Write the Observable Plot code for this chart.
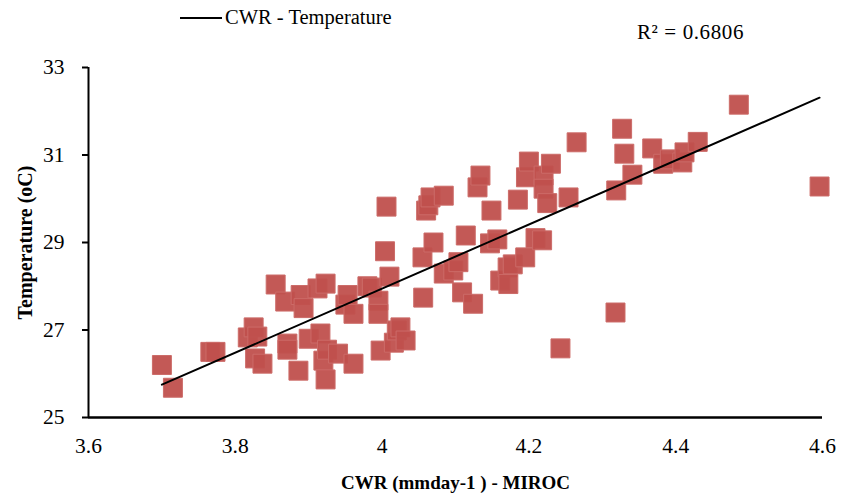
<!DOCTYPE html>
<html>
<head>
<meta charset="utf-8">
<script src="https://cdn.jsdelivr.net/npm/d3@7"></script>
<script src="https://cdn.jsdelivr.net/npm/@observablehq/plot@0.6"></script>
<style>
  html, body { margin: 0; padding: 0; background: #fff; }
  #wrap { width: 841px; height: 499px; position: relative; font-family: "Liberation Serif", "Times New Roman", serif; color: #000; }
  #legend { position: relative; width: 841px; height: 45px; }
  #legend .swatch { position: absolute; left: 180px; top: 17px; width: 42px; height: 2px; background: #000; }
  #legend .lab { position: absolute; left: 225px; top: 5px; font-size: 20.5px; line-height: 24px; white-space: nowrap; }
  #legend .r2 { position: absolute; left: 637px; top: 19px; font-size: 21px; line-height: 26px; white-space: nowrap; letter-spacing: 0.6px; }
</style>
</head>
<body>
<div id="wrap">
  <div id="legend">
    <div class="swatch"></div>
    <div class="lab">CWR - Temperature</div>
    <div class="r2">R² = 0.6806</div>
  </div>
  <div id="chart"></div>
</div>
<script>
// CWR (mm/day) - MIROC values
const cwr = [
  3.700, 3.715, 3.766, 3.773, 3.817, 3.825, 3.830, 3.827, 3.837, 3.855,
  3.868, 3.871, 3.871, 3.886, 3.889, 3.893, 3.900, 3.912, 3.916, 3.920,
  3.923, 3.923, 3.925, 3.940, 3.950, 3.953, 3.961, 3.961, 3.980, 3.986,
  3.995, 3.995, 3.998, 4.004, 4.006, 4.010, 4.016, 4.020, 4.025, 4.032,
  4.055, 4.056, 4.060, 4.063, 4.066, 4.070, 4.084, 4.084, 4.097, 4.104,
  4.109, 4.114, 4.124, 4.130, 4.134, 4.147, 4.149, 4.157, 4.161, 4.171,
  4.172, 4.178, 4.185, 4.195, 4.196, 4.200, 4.209, 4.218, 4.220, 4.220,
  4.225, 4.230, 4.243, 4.254, 4.265, 4.318, 4.319, 4.327, 4.330, 4.341,
  4.368, 4.383, 4.392, 4.409, 4.412, 4.430, 4.486, 4.596
];
// Temperature (oC) values
const temperature = [
  26.20, 25.68, 26.50, 26.50, 26.83, 27.06, 26.85, 26.35, 26.23, 28.04,
  27.65, 26.69, 26.55, 26.07, 27.80, 27.50, 26.80, 27.95, 26.92, 26.30,
  28.06, 25.87, 26.55, 26.46, 27.58, 27.80, 27.37, 26.23, 28.00, 27.97,
  27.67, 27.37, 26.53, 28.80, 29.82, 28.22, 26.71, 26.99, 27.06, 26.76,
  28.66, 27.74, 29.73, 29.85, 30.03, 29.00, 30.07, 28.29, 28.36, 28.55,
  27.86, 29.16, 27.60, 30.26, 30.53, 28.98, 29.73, 29.07, 28.13, 28.43,
  28.05, 28.50, 29.98, 28.66, 30.49, 30.85, 29.10, 29.05, 30.53, 30.23,
  29.90, 30.80, 26.58, 30.03, 31.29, 27.40, 30.19, 31.60, 31.03, 30.55,
  31.15, 30.80, 30.90, 30.83, 31.06, 31.30, 32.15, 30.28
];
// Linear trendline end points (CWR, Temperature)
const trendX = [3.700, 4.596];
const trendY = [25.75, 32.31];
// Axis ticks
const xTicks = [3.6, 3.8, 4.0, 4.2, 4.4, 4.6];
const yTicks = [25, 27, 29, 31, 33];
const xTitle = "CWR (mmday-1 ) - MIROC";
const yTitle = "Temperature (oC)";

const points = cwr.map((x, i) => ({x, y: temperature[i]}));
const trend = trendX.map((x, i) => ({x, y: trendY[i]}));

const chart = Plot.plot({
  width: 841,
  height: 454,
  marginTop: 22,
  marginBottom: 82,
  marginLeft: 88,
  marginRight: 19,
  x: {domain: [3.6, 4.6]},
  y: {domain: [25, 33]},
  style: {fontFamily: "'Liberation Serif', 'Times New Roman', serif", fontSize: "21px", color: "#000", background: "#fff", overflow: "visible"},
  marks: [
    Plot.axisY({ticks: yTicks, tickSize: 6, tickPadding: 18, strokeWidth: 2, label: null, fontSize: 21.5}),
    Plot.axisX({ticks: xTicks, tickSize: 0, tickPadding: 20, label: null, fontSize: 21.5, tickFormat: d => String(+d.toFixed(1))}),
    Plot.dot(points, {x: "x", y: "y", symbol: "square", r: 10.7, fill: "#c0504d", fillOpacity: 0.95, stroke: "#cc6b68", strokeWidth: 1, strokeLinejoin: "round"}),
    Plot.line(trend, {x: "x", y: "y", stroke: "#000", strokeWidth: 2}),
    Plot.ruleX([3.6], {stroke: "#000", strokeWidth: 2}),
    Plot.ruleY([25], {stroke: "#000", strokeWidth: 2.5}),
    Plot.text([yTitle], {frameAnchor: "left", textAnchor: "middle", lineAnchor: "middle", dx: -63, rotate: -90, fontWeight: "bold", fontSize: 20}),
    Plot.text([xTitle], {frameAnchor: "bottom", textAnchor: "middle", lineAnchor: "middle", dy: 65, fontWeight: "bold", fontSize: 19})
  ]
});
document.getElementById("chart").appendChild(chart);
</script>
</body>
</html>
